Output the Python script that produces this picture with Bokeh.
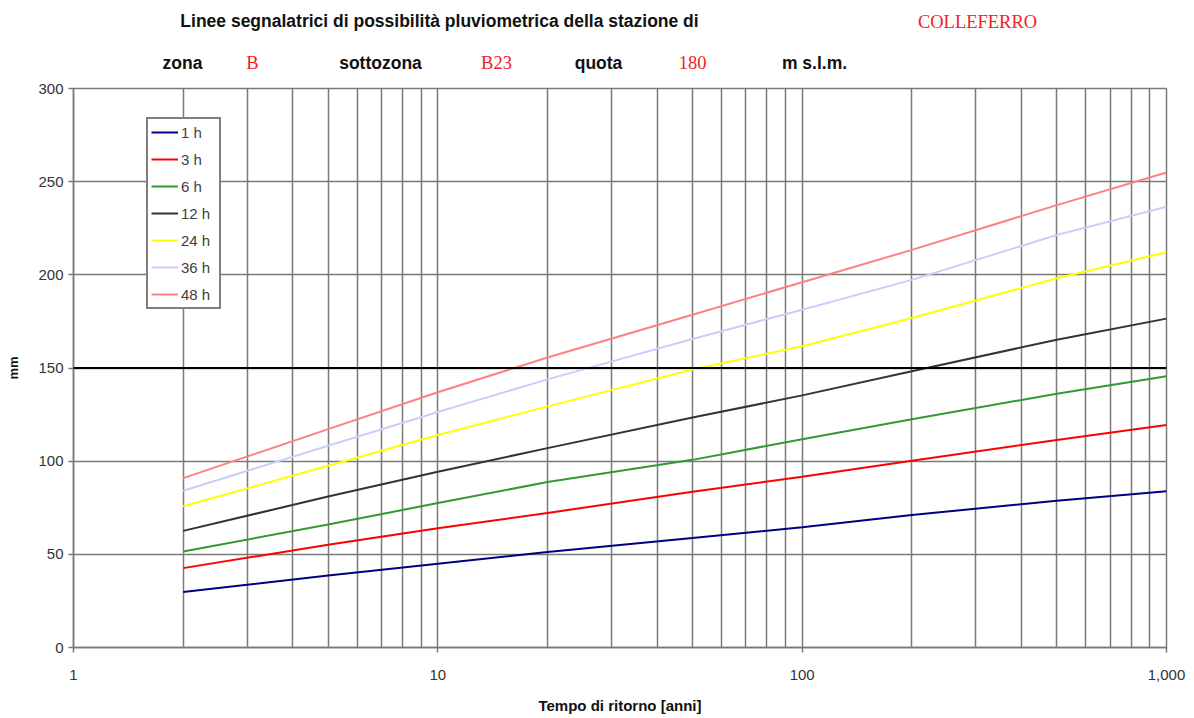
from bokeh.plotting import figure
from bokeh.layouts import column
from bokeh.models import (Range1d, FixedTicker, Span, Legend, LegendItem,
                          CustomJSTickFormatter, ColumnDataSource)
from bokeh.core.properties import value
from bokeh.embed import file_html
from bokeh.resources import INLINE

# ---- data ----
return_periods = [2, 5, 10, 20, 50, 100, 200, 500, 1000]
h1 = [29.8, 38.6, 45.0, 51.3, 58.8, 64.5, 71.1, 78.8, 83.8]
h3 = [42.6, 55.2, 64.0, 72.2, 83.6, 91.6, 100.2, 111.4, 119.4]
h6 = [51.5, 66.0, 77.5, 88.8, 100.7, 111.8, 122.5, 136.2, 145.6]
h12 = [62.6, 81.0, 94.3, 107.0, 123.4, 135.3, 148.3, 165.2, 176.5]
h24 = [75.8, 97.5, 114.0, 129.4, 149.2, 161.7, 176.8, 198.2, 212.1]
h36 = [84.1, 108.3, 126.4, 143.9, 165.6, 181.3, 197.3, 221.4, 236.5]
h48 = [90.9, 117.2, 137.0, 155.6, 178.6, 196.0, 213.4, 237.4, 254.9]

series_names = ["1 h", "3 h", "6 h", "12 h", "24 h", "36 h", "48 h"]
series_values = [h1, h3, h6, h12, h24, h36, h48]
series_colors = ["#000080", "#ff0000", "#339933", "#333333", "#ffff00", "#ccccff", "#ff8080"]

x_ticks = [1, 10, 100, 1000]
x_grid = [2, 3, 4, 5, 6, 7, 8, 9, 10, 20, 30, 40, 50, 60, 70, 80, 90,
          100, 200, 300, 400, 500, 600, 700, 800, 900, 1000]
y_ticks = [0, 50, 100, 150, 200, 250, 300]

# header texts: black labels and red station values
header_black = ["Linee segnalatrici di possibilità pluviometrica della stazione di",
                "zona", "sottozona", "quota", "m s.l.m."]
header_red = ["COLLEFERRO", "B", "B23", "180"]

SANS = "Liberation Sans"
SERIF = "Liberation Serif"
GRID = "#7a7a7a"
W = 1190
LEFT = 73
RIGHT = W - 1166
HDR_H = 78

# ---- header strip (frame aligned with the chart frame; data x = page x) ----
hdr = figure(width=W, height=HDR_H, x_range=Range1d(LEFT, W - RIGHT),
             y_range=Range1d(HDR_H, 0),
             output_backend="svg", toolbar_location=None,
             min_border_left=LEFT, min_border_right=RIGHT,
             min_border_top=0, min_border_bottom=0, outline_line_color=None)
hdr.axis.visible = False
hdr.grid.visible = False
hdr.background_fill_color = "white"
hdr.border_fill_color = "white"
hdr.text(x=[439, 182, 380, 598, 814], y=[20, 62, 62, 62, 62], text=header_black,
         text_font=value(SANS), text_font_size="17.5px", text_font_style="bold",
         text_color="#111111", text_align="center", text_baseline="middle")
hdr.text(x=[977, 252, 496, 692], y=[21, 62, 62, 62], text=header_red,
         text_font=value(SERIF), text_font_size="18.5px",
         text_color="#ee2222", text_align="center", text_baseline="middle")

# ---- main chart ----
p = figure(width=W, height=638, x_axis_type="log",
           x_range=Range1d(1, 1000), y_range=Range1d(0, 300),
           output_backend="svg", toolbar_location=None,
           min_border_left=LEFT, min_border_right=RIGHT,
           min_border_top=10, min_border_bottom=67)
p.background_fill_color = "white"
p.border_fill_color = "white"
p.outline_line_color = GRID
p.outline_line_width = 1.5

p.xaxis.ticker = FixedTicker(ticks=x_ticks)
p.xaxis.formatter = CustomJSTickFormatter(code="return Math.round(tick).toLocaleString('en-US');")
p.yaxis.ticker = FixedTicker(ticks=y_ticks)
for ax in (p.xaxis[0], p.yaxis[0]):
    ax.axis_line_color = GRID
    ax.axis_line_width = 1.5
    ax.major_tick_line_color = GRID
    ax.major_tick_line_width = 1.5
    ax.major_tick_in = 0
    ax.major_tick_out = 5
    ax.minor_tick_line_color = None
    ax.major_label_text_font = SANS
    ax.major_label_text_font_size = "15px"
    ax.major_label_text_color = "#333333"
    ax.axis_label_text_font = SANS
    ax.axis_label_text_font_style = "bold"
    ax.axis_label_text_color = "#111111"

p.xaxis.major_label_standoff = 17
p.xaxis.axis_label = "Tempo di ritorno [anni]"
p.xaxis.axis_label_text_font_size = "15px"
p.xaxis.axis_label_standoff = 14
p.yaxis.major_label_standoff = 5
p.yaxis.axis_label = "mm"
p.yaxis.axis_label_text_font_size = "13px"
p.yaxis.axis_label_standoff = 14

p.xgrid.ticker = FixedTicker(ticks=x_grid)
p.ygrid.ticker = FixedTicker(ticks=y_ticks)
for g in (p.xgrid[0], p.ygrid[0]):
    g.grid_line_color = GRID
    g.grid_line_width = 1.5
    g.grid_line_alpha = 1.0

p.add_layout(Span(location=150, dimension="width", line_color="black", line_width=2))

items = []
for name, vals, col in zip(series_names, series_values, series_colors):
    src = ColumnDataSource(dict(x=return_periods, y=vals))
    r = p.line("x", "y", source=src, line_color=col, line_width=2)
    items.append(LegendItem(label=name, renderers=[r]))

legend = Legend(items=items, location=(73, 338),
                border_line_color="black", border_line_width=2,
                background_fill_color="white", background_fill_alpha=1,
                padding=3, spacing=7, margin=0,
                glyph_width=27, glyph_height=20, label_height=20,
                label_width=35, label_standoff=3,
                label_text_font=SANS, label_text_font_size="15px",
                label_text_color="#404040")
p.add_layout(legend)

layout = column(hdr, p, spacing=0)
open("out.html", "w").write(file_html(layout, INLINE))
